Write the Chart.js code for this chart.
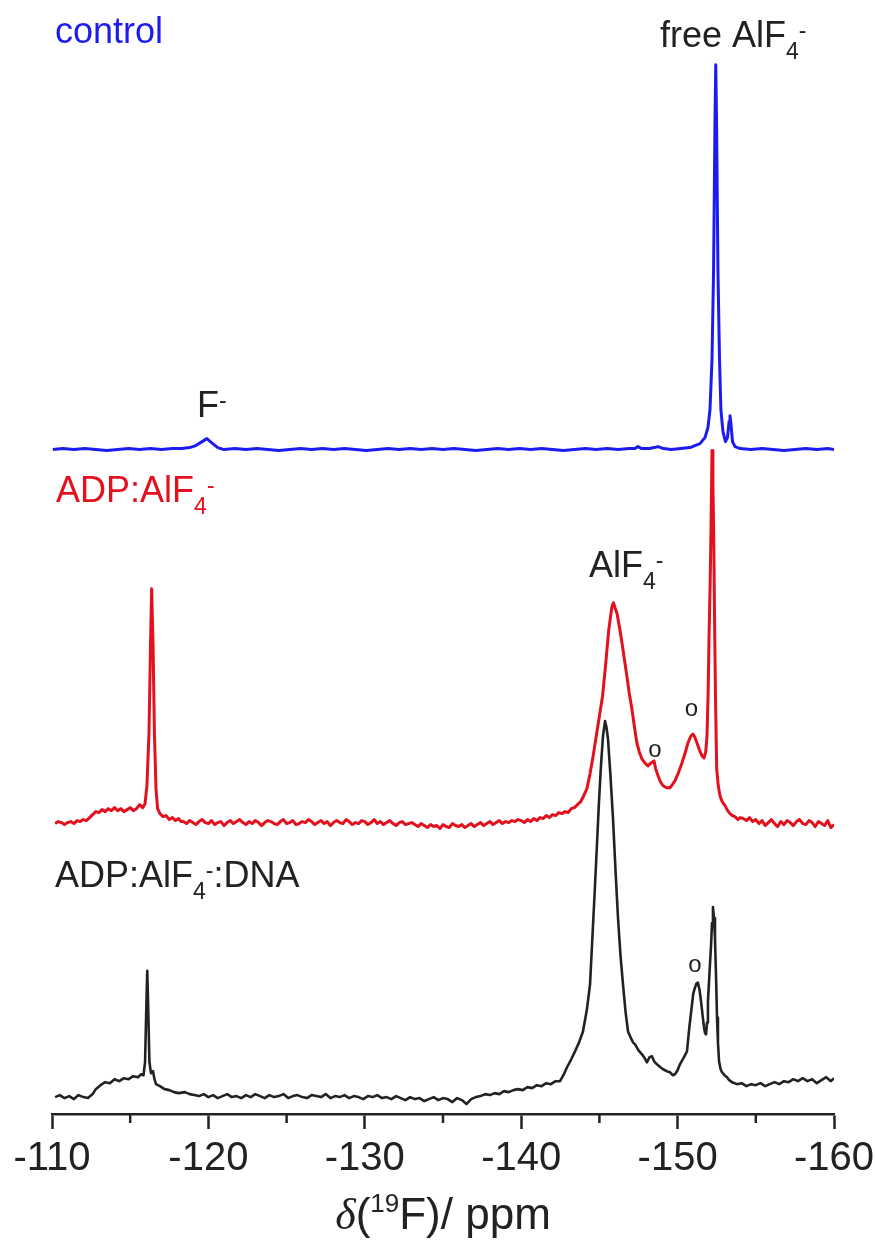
<!DOCTYPE html>
<html>
<head>
<meta charset="utf-8">
<script src="https://cdn.jsdelivr.net/npm/chart.js@4.4.0/dist/chart.umd.min.js"></script>
<style>
html, body { margin: 0; padding: 0; background: #fff; }
#wrap { width: 875px; height: 1241px; position: relative; }
</style>
</head>
<body>
<div id="wrap"><canvas id="nmr"></canvas></div>
<script>
// 19F spectra, x in ppm, intensity in arbitrary units above each trace's own baseline

// control (blue)
const ctrlPpm = [-110.05, -110.7, -111.4, -112.1, -112.8, -113.5, -114.2, -114.9, -115.6, -116.3, -117.0, -117.7,
  -118.3, -118.8, -119.2, -119.6, -119.9, -120.2, -120.6, -121.0, -121.7, -122.4, -123.1, -123.8, -124.5, -125.2,
  -125.9, -126.6, -127.3, -128.0, -128.7, -129.4, -130.1, -130.8, -131.5, -132.2, -132.9, -133.6, -134.3, -135.0,
  -135.7, -136.4, -137.1, -137.8, -138.5, -139.2, -139.9, -140.6, -141.3, -142.0, -142.7, -143.4, -144.1, -144.8,
  -145.5, -146.2, -146.9, -147.25, -147.47, -147.7, -148.2, -148.5, -148.75, -149.1, -149.6, -150.2, -150.79,
  -151.43, -151.75, -151.94, -152.07, -152.2, -152.3, -152.39, -152.44, -152.49, -152.58, -152.68, -152.77, -152.9,
  -153.06, -153.19, -153.29, -153.35, -153.41, -153.51, -153.67, -154.0, -154.7, -155.4, -156.1, -156.8, -157.5,
  -158.2, -158.9, -159.6, -160.0];
const ctrlInt = [0, 1, 0, 1, 0, -1, 0, 1, 0, 1, 0, 1,
  1, 2, 4, 8, 11, 7, 2, 0, 1, 0, 1, 0, -1, 0,
  1, 0, 1, 0, 1, 0, -1, 0, 1, 0, 1, 0, 1, 0,
  1, 0, -1, 0, 1, 0, 1, 0, 1, 0, -1, 0, 1, 0,
  1, 0, 1, 1, 3, 1, 1, 2, 3, 1, 0, 1, 2,
  6, 12, 22, 40, 90, 180, 330, 387, 330, 180, 90, 40, 18,
  8, 12, 28, 34, 26, 8, 3, 1, 0, 1, 0, -1, 0,
  1, 0, 1, 0];

// ADP:AlF4- (red)
const adpPpm = [
  -110.2, -110.4, -110.6, -110.8, -111.0, -111.2, -111.4, -111.6, -111.8, -112.0,
  -112.2, -112.4, -112.6, -112.8, -113.0, -113.2, -113.4, -113.6, -113.8, -114.0,
  -114.2, -114.4, -114.6, -114.8, -115.0, -115.2, -115.4, -115.6, -115.8, -115.95,
  -116.07, -116.2, -116.3, -116.37, -116.46, -116.55, -116.65, -116.75,
  -116.9, -117.1, -117.3, -117.5, -117.7, -117.9, -118.1, -118.25,
  -118.4, -118.6, -118.8, -119.0, -119.2, -119.4, -119.6, -119.8, -120.0, -120.2,
  -120.4, -120.6, -120.8, -121.0, -121.2, -121.4, -121.6, -121.8, -122.0, -122.2,
  -122.4, -122.6, -122.8, -123.0, -123.2, -123.4, -123.6, -123.8, -124.0, -124.2,
  -124.4, -124.6, -124.8, -125.0, -125.2, -125.4, -125.6, -125.8, -126.0, -126.2,
  -126.4, -126.6, -126.8, -127.0, -127.2, -127.4, -127.6, -127.8, -128.0, -128.2,
  -128.4, -128.6, -128.8, -129.0, -129.2, -129.4, -129.6, -129.8, -130.0, -130.2,
  -130.4, -130.6, -130.8, -131.0, -131.2, -131.4, -131.6, -131.8, -132.0, -132.2,
  -132.4, -132.6, -132.8, -133.0, -133.2, -133.4, -133.6, -133.8, -134.0, -134.2,
  -134.4, -134.6, -134.8, -135.0, -135.2, -135.4, -135.6, -135.8, -136.0, -136.2,
  -136.4, -136.6, -136.8, -137.0, -137.2, -137.4, -137.6, -137.8, -138.0, -138.2,
  -138.4, -138.6, -138.8, -139.0, -139.2, -139.4, -139.6, -139.8,
  -140.0, -140.2, -140.4, -140.6, -140.8, -141.0, -141.2, -141.4, -141.6, -141.8,
  -142.0, -142.2, -142.4, -142.6, -142.8, -143.0, -143.2, -143.4, -143.6, -143.8,
  -144.0, -144.2, -144.4, -144.6, -144.8, -145.0, -145.2, -145.4, -145.6, -145.8,
  -145.9, -146.0, -146.13, -146.3, -146.45, -146.6, -146.76, -146.9, -147.08, -147.25,
  -147.4, -147.55, -147.72, -147.9, -148.11, -148.3, -148.49, -148.6, -148.75, -148.9,
  -149.07, -149.3, -149.51, -149.7, -149.83, -150.05, -150.28, -150.5, -150.66, -150.85,
  -150.98, -151.1, -151.24, -151.4, -151.56, -151.69, -151.8, -151.88, -151.95, -152.01,
  -152.08, -152.14, -152.2, -152.26, -152.31, -152.36, -152.42, -152.5, -152.6, -152.71,
  -152.85, -153.03, -153.2, -153.35, -153.5, -153.67, -153.85, -154.0,
  -154.2, -154.4, -154.6, -154.8, -155.0, -155.2, -155.4, -155.6, -155.8, -156.0,
  -156.2, -156.4, -156.6, -156.8, -157.0, -157.2, -157.4, -157.6, -157.8, -158.0,
  -158.2, -158.4, -158.6, -158.8, -159.0, -159.2, -159.4, -159.6, -159.8, -160.0];
const adpInt = [
  0, 2, 1, -1, 1, 2, 0, 3, 2, 4,
  3, 6, 9, 12, 11, 14, 12, 15, 13, 16,
  13, 15, 12, 14, 16, 13, 15, 19, 16, 20,
  38, 90, 180, 236, 180, 90, 35, 15,
  10, 7, 8, 4, 6, 3, 5, 2,
  2, 0, 3, 1, -1, 2, 4, 1, 0, 3,
  -1, 1, 2, -2, 1, 3, 0, 2, 4, 1,
  -1, 2, 0, 3, 1, -2, 1, 3, 2, 0,
  -1, 2, 4, 0, 1, 3, -1, 0, 2, 1,
  4, 2, -1, 1, 3, 0, 2, -2, 1, 3,
  1, 0, 4, 2, -1, 1, 0, 3, 2, -1,
  1, 4, 0, 2, -1, 1, 3, 0, -2, 1,
  2, -1, 0, 1, -1, -3, 0, -2, -4, -1,
  -3, -2, -5, -1, -3, -4, 0, -2, -3, -1,
  -4, -2, 0, -3, -1, 1, -2, 0, 2, -1,
  1, 3, 0, 2, 1, 3, 2, 4,
  3, 1, 4, 2, 5, 3, 6, 5, 8, 6,
  9, 8, 11, 10, 12, 11, 15, 16, 19, 22,
  28, 35, 50, 68, 88, 108, 128, 160, 195, 218,
  222, 217, 211, 196, 181, 165, 148, 132, 115, 96,
  81, 72, 65, 61, 58, 61, 63, 55, 48, 42,
  38, 36, 36, 40, 43, 51, 61, 72, 81, 88,
  90, 87, 81, 74, 68, 66, 72, 88, 130, 188,
  240, 300, 375, 340, 288, 210, 130, 55, 38, 28,
  22, 18, 13, 10, 8, 7, 4, 6,
  5, 3, 6, 2, 4, 0, 3, -2, 1, 4,
  0, -3, 2, -1, 3, 1, -2, 2, 4, 0,
  -1, 3, 1, -3, 2, 0, -2, 3, -4, -1];

// ADP:AlF4-:DNA (black)
const dnaPpm = [
  -110.2, -110.5, -110.8, -111.1, -111.4, -111.7, -112.0, -112.3, -112.6, -112.8,
  -113.1, -113.4, -113.7, -114.0, -114.3, -114.6, -114.9, -115.2, -115.5, -115.7,
  -115.85, -115.95, -116.03, -116.09, -116.15, -116.23, -116.33, -116.46, -116.55, -116.65,
  -116.9, -117.2, -117.5, -117.8, -118.1, -118.5, -118.8, -119.1,
  -119.4, -119.7, -120.0, -120.3, -120.6, -120.9, -121.2, -121.5, -121.8, -122.1,
  -122.4, -122.7, -123.0, -123.3, -123.6, -123.9, -124.2, -124.5, -124.8, -125.1,
  -125.4, -125.7, -126.0, -126.3, -126.6, -126.9, -127.2, -127.5, -127.8, -128.1,
  -128.4, -128.7, -129.0, -129.3, -129.6, -129.9, -130.2, -130.5, -130.8, -131.1,
  -131.4, -131.7, -132.0, -132.3, -132.6, -132.9, -133.2, -133.5, -133.8, -134.1,
  -134.4, -134.7, -135.0, -135.3, -135.6, -135.9, -136.2, -136.5, -136.8, -137.1,
  -137.4, -137.7, -138.0, -138.3, -138.6, -138.9, -139.2, -139.5,
  -139.8, -140.1, -140.4, -140.7, -141.0, -141.3, -141.6, -141.9, -142.2, -142.48,
  -142.7, -142.93, -143.2, -143.44, -143.7, -143.95, -144.2, -144.4, -144.55, -144.72,
  -144.85, -144.97, -145.1, -145.23, -145.36, -145.45, -145.55, -145.7, -145.87, -146.03,
  -146.19, -146.35, -146.51, -146.67, -146.83, -147.0, -147.15, -147.28, -147.5, -147.72,
  -147.9, -148.04, -148.2, -148.36, -148.5, -148.68, -148.9, -149.07, -149.3, -149.51,
  -149.7, -149.83, -150.0, -150.15, -150.4, -150.6, -150.75, -150.92, -151.0, -151.11,
  -151.2, -151.3, -151.4, -151.5, -151.6, -151.69, -151.76, -151.82, -151.88, -151.94,
  -152.04, -152.14, -152.2, -152.26, -152.33, -152.39, -152.46, -152.52, -152.58, -152.65,
  -152.75, -152.84, -153.0, -153.16, -153.3, -153.48,
  -153.8, -154.1, -154.4, -154.7, -155.0, -155.3, -155.6, -155.9, -156.2, -156.5,
  -156.8, -157.1, -157.4, -157.7, -158.0, -158.3, -158.6, -158.9, -159.2, -159.5,
  -159.8, -160.0];
const dnaInt = [
  0, 2, -1, 1, -2, 2, 0, -1, 3, 8,
  12, 15, 14, 18, 16, 19, 18, 21, 20, 23,
  22, 35, 90, 127, 90, 35, 24, 26, 18, 13,
  11, 8, 7, 5, 4, 5, 3, 2,
  1, 3, 0, 2, -1, 1, 3, 0, 1, -1,
  2, 0, 3, 1, -1, 2, 0, 1, 3, -1,
  1, 2, 0, -1, 2, 1, 0, 3, -1, 1,
  0, 2, -1, 1, 0, -2, 1, 0, 2, -1,
  0, -2, 1, -1, -3, 0, -2, -1, -4, -2,
  0, -3, -1, -2, -5, -1, -3, -7, -2, 0,
  1, 3, 2, 4, 3, 6, 5, 7,
  8, 7, 10, 9, 12, 11, 14, 13, 16, 16,
  22, 30, 38, 46, 55, 66, 88, 113, 160, 213,
  256, 296, 333, 363, 378, 372, 360, 325, 280, 228,
  180, 142, 113, 86, 66, 60, 55, 53, 47, 43,
  39, 35, 40, 41, 36, 33, 30, 28, 26, 25,
  22, 23, 27, 33, 40, 46, 70, 93, 104, 110,
  114, 115, 108, 96, 82, 70, 64, 63, 75, 96,
  125, 153, 175, 191, 180, 160, 120, 80, 55, 36,
  28, 25, 22, 20, 17, 15,
  13, 14, 11, 13, 12, 14, 11, 13, 15, 13,
  16, 15, 18, 16, 19, 16, 18, 14, 17, 20,
  16, 19];

// vertical stacking of the three traces
const ctrlOffset = 668;
const adpOffset = 292;
const dnaOffset = 17;

const xMin = -160, xMax = -110;
const minorTicks = [-115, -125, -135, -145, -155];

const BLUE = '#1c1cf0';
const RED = '#e3111d';
const INK = '#222222';
const FONT = '"Liberation Sans", Arial, sans-serif';
const SERIF = '"Liberation Serif", "Times New Roman", serif';

function toPoints(ppm, vals, off) {
  return ppm.map((p, i) => ({ x: p, y: vals[i] + off }));
}

// labels: [ppm, height on the chart scale, colour, parts]
const labels = [
  [-110.19, 1077, BLUE, [['control', '']]],
  [-148.87, 1073, INK, [['free AlF', ''], ['4', 'sub'], ['-', 'sup']]],
  [-119.27, 701, INK, [['F', ''], ['-', 'sup']]],
  [-110.26, 615, RED, [['ADP:AlF', ''], ['4', 'sub'], ['-', 'sup']]],
  [-144.33, 540, INK, [['AlF', ''], ['4', 'sub'], ['-', 'sup']]],
  [-110.19, 228, INK, [['ADP:AlF', ''], ['4', 'sub'], ['-', 'sup'], [':DNA', '']]]
];
const circles = [[-148.55, 366], [-150.89, 407], [-151.11, 149]];

function partFont(kind, size) {
  if (kind === 'sub' || kind === 'sup') return Math.round(size * 0.65) + 'px ' + FONT;
  if (kind === 'sup19') return Math.round(size * 0.6) + 'px ' + FONT;
  if (kind === 'italic') return 'italic ' + size + 'px ' + SERIF;
  return size + 'px ' + FONT;
}
function partShift(kind) {
  if (kind === 'sub') return 12;
  if (kind === 'sup') return -9;
  if (kind === 'sup19') return -17;
  return 0;
}
function drawParts(ctx, x, y, parts, color, size) {
  ctx.fillStyle = color;
  ctx.textAlign = 'left';
  ctx.textBaseline = 'alphabetic';
  for (const [t, kind] of parts) {
    ctx.font = partFont(kind, size);
    ctx.fillText(t, x, y + partShift(kind));
    x += ctx.measureText(t).width;
  }
}

const overlay = {
  id: 'overlay',
  afterDraw(chart) {
    const { ctx } = chart;
    const xs = chart.scales.x, ys = chart.scales.y;
    ctx.save();
    // minor ticks
    ctx.strokeStyle = INK;
    ctx.lineWidth = 2.5;
    minorTicks.forEach(v => {
      const px = xs.getPixelForValue(v);
      ctx.beginPath();
      ctx.moveTo(px, ys.bottom);
      ctx.lineTo(px, ys.bottom + 9);
      ctx.stroke();
    });
    // peak labels
    labels.forEach(([p, v, c, parts]) => {
      drawParts(ctx, xs.getPixelForValue(p), ys.getPixelForValue(v), parts, c, 36);
    });
    ctx.font = '24px ' + FONT;
    ctx.fillStyle = INK;
    ctx.textAlign = 'center';
    ctx.textBaseline = 'middle';
    circles.forEach(([p, v]) => ctx.fillText('o', xs.getPixelForValue(p), ys.getPixelForValue(v)));
    // axis title
    const title = [['δ', 'italic'], ['(', ''], ['19', 'sup19'], ['F)/ ppm', '']];
    let w = 0;
    title.forEach(([t, kind]) => { ctx.font = partFont(kind, 44); w += ctx.measureText(t).width; });
    const cx = (xs.left + xs.right) / 2;
    drawParts(ctx, cx - w / 2, 1229, title, INK, 44);
    ctx.restore();
  }
};

const lineStyle = { pointRadius: 0, tension: 0, fill: false, borderJoinStyle: 'round' };

new Chart(document.getElementById('nmr'), {
  type: 'line',
  data: {
    datasets: [
      Object.assign({ label: 'control', data: toPoints(ctrlPpm, ctrlInt, ctrlOffset), borderColor: BLUE, borderWidth: 3 }, lineStyle),
      Object.assign({ label: 'ADP:AlF4-', data: toPoints(adpPpm, adpInt, adpOffset), borderColor: RED, borderWidth: 3 }, lineStyle),
      Object.assign({ label: 'ADP:AlF4-:DNA', data: toPoints(dnaPpm, dnaInt, dnaOffset), borderColor: INK, borderWidth: 2.6 }, lineStyle)
    ]
  },
  options: {
    responsive: true,
    maintainAspectRatio: false,
    animation: false,
    layout: { padding: { left: 52, right: 41, top: 0, bottom: 52 } },
    plugins: { legend: { display: false }, tooltip: { enabled: false } },
    scales: {
      x: {
        type: 'linear',
        min: xMin,
        max: xMax,
        reverse: true,
        afterFit(scale) { scale.paddingLeft = 0; scale.paddingRight = 0; },
        ticks: { stepSize: 10, color: INK, padding: 6, font: { family: FONT, size: 40 } },
        grid: { drawOnChartArea: false, drawTicks: true, tickLength: 15, tickWidth: 2.5, tickColor: INK },
        border: { display: true, color: INK, width: 2.5 }
      },
      y: { display: false, min: 0, max: 1120 }
    }
  },
  plugins: [overlay]
});
</script>
</body>
</html>
